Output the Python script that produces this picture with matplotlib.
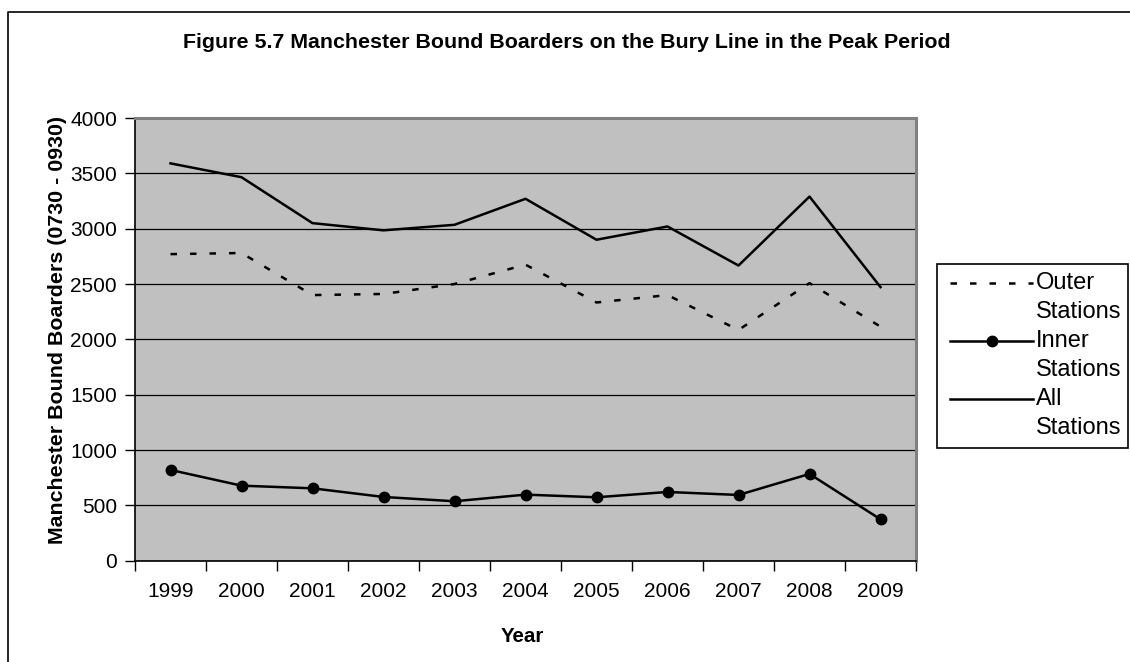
import matplotlib
matplotlib.use("Agg")
import matplotlib.pyplot as plt
from matplotlib.lines import Line2D
from matplotlib.patches import Rectangle

plt.rcParams['font.family'] = ['Liberation Sans', 'DejaVu Sans']

years = ["1999", "2000", "2001", "2002", "2003", "2004", "2005", "2006", "2007", "2008", "2009"]
outer_stations = [2770, 2780, 2400, 2410, 2500, 2675, 2333, 2400, 2085, 2508, 2115]
inner_stations = [820, 678, 654, 576, 537, 597, 573, 621, 594, 784, 374]
all_stations = [3590, 3465, 3050, 2985, 3035, 3270, 2900, 3020, 2667, 3290, 2472]
yticks = [0, 500, 1000, 1500, 2000, 2500, 3000, 3500, 4000]

W, H = 1130, 662
fig = plt.figure(figsize=(W / 100, H / 100), dpi=100)
fig.patch.set_facecolor('white')

def fx(px):
    return px / W

def fy(py):
    return 1 - py / H

ax = fig.add_axes([fx(135), fy(560.7), fx(916) - fx(135), fy(118) - fy(560.7)])
ax.set_facecolor('#C0C0C0')

x = list(range(len(years)))
lw = 1.8
dash = (0, (2.6, 5.2))
ax.plot(x, outer_stations, color='black', lw=lw, linestyle=dash, zorder=3)
ax.plot(x, inner_stations, color='black', lw=lw, marker='o', markersize=7.5, zorder=3)
ax.plot(x, all_stations, color='black', lw=lw, zorder=3)

ax.set_xlim(-0.5, len(years) - 0.5)
ax.set_ylim(0, 4000)
ax.set_yticks(yticks)
ax.set_yticklabels([str(v) for v in yticks], fontsize=15)
ax.yaxis.grid(True, color='black', lw=0.9)
ax.set_axisbelow(True)
ax.tick_params(axis='y', length=7, width=1, pad=6, color='black')

ax.set_xticks(x)
ax.set_xticklabels(years, fontsize=15)
ax.tick_params(axis='x', which='major', length=0, pad=15)
ax.set_xticks([i - 0.5 for i in range(len(years) + 1)], minor=True)
ax.tick_params(axis='x', which='minor', length=7, width=1, color='black')

for s in ['top', 'right']:
    ax.spines[s].set_color('#808080')
    ax.spines[s].set_linewidth(2.2)
for s in ['left', 'bottom']:
    ax.spines[s].set_color('black')
    ax.spines[s].set_linewidth(1.2)

fig.text(fx(566.5), fy(43), "Figure 5.7 Manchester Bound Boarders on the Bury Line in the Peak Period",
         ha='center', va='center', fontsize=15.4, fontweight='bold')
fig.text(fx(58), fy(330), "Manchester Bound Boarders (0730 - 0930)", rotation=90,
         ha='center', va='center', fontsize=15.4, fontweight='bold')
fig.text(fx(522), fy(637), "Year", ha='center', va='center', fontsize=14.8, fontweight='bold')

# figure border (clipped at right/bottom)
fig.add_artist(Line2D([fx(8), fx(8), fx(1135)], [fy(670), fy(12), fy(12)],
                      transform=fig.transFigure, color='black', lw=1.2))

# legend
fig.add_artist(Rectangle((fx(937), fy(448)), fx(1128) - fx(937), fy(264) - fy(448),
                         transform=fig.transFigure, facecolor='white', edgecolor='black', lw=1.2))
rows = [283 + 29 * k for k in range(6)]
labels = ["Outer", "Stations", "Inner", "Stations", "All", "Stations"]
fig.add_artist(Line2D([fx(950), fx(1033)], [fy(rows[0])] * 2, transform=fig.transFigure,
                      color='black', lw=lw, linestyle=dash))
fig.add_artist(Line2D([fx(950), fx(1033)], [fy(rows[2])] * 2, transform=fig.transFigure,
                      color='black', lw=lw))
fig.add_artist(Line2D([fx(991.5)], [fy(rows[2])], transform=fig.transFigure,
                      color='black', marker='o', markersize=7.5, lw=0))
fig.add_artist(Line2D([fx(950), fx(1033)], [fy(rows[4])] * 2, transform=fig.transFigure,
                      color='black', lw=lw))
for r, lab in zip(rows, labels):
    fig.text(fx(1036), fy(r), lab, ha='left', va='center', fontsize=17)

fig.savefig("out.png", dpi=100)
